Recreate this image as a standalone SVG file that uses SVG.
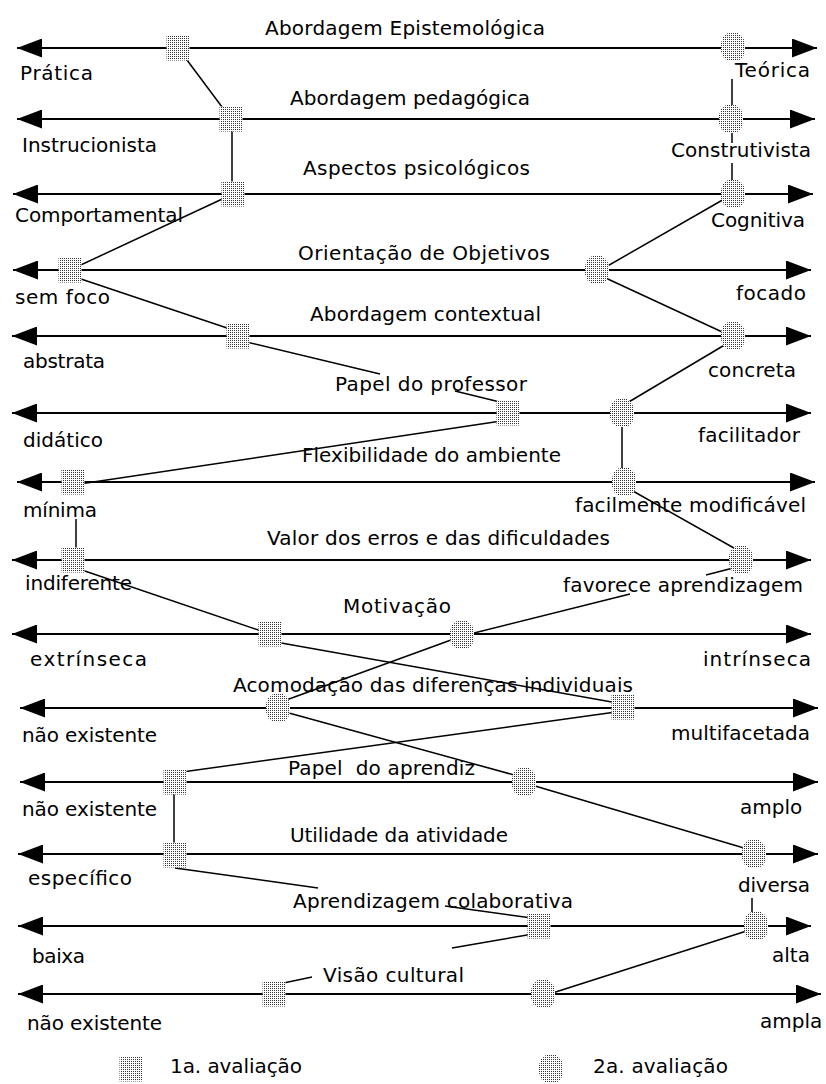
<svg xmlns="http://www.w3.org/2000/svg" xmlns:xlink="http://www.w3.org/1999/xlink" width="826" height="1084" viewBox="0 0 826 1084">
<style>
text{font-family:"DejaVu Sans","Liberation Sans",sans-serif;font-size:20px;fill:#000}
.axis{stroke:#000;stroke-width:2;fill:none}
.conn line{stroke:#000;stroke-width:1.5}
.m{fill:url(#dots)}
</style>
<defs>
<pattern id="dots" width="2" height="2" patternUnits="userSpaceOnUse"><rect width="2" height="2" fill="#fff"/><rect width="1" height="1" fill="#333"/></pattern>
<marker id="arr" viewBox="0 0 25 19" refX="25" refY="9.5" markerWidth="25" markerHeight="19" markerUnits="userSpaceOnUse" orient="auto-start-reverse"><path d="M0,0 L25,9.5 L0,19 z" fill="#000"/></marker>
<rect id="sq" x="-11.5" y="-12.5" width="23" height="25"/>
<polygon id="oct" points="-5,-14 5,-14 10,-10 12,-4 12,4 10,10 5,14 -5,14 -10,10 -12,4 -12,-4 -10,-10"/>
</defs>
<rect width="826" height="1084" fill="#fff"/>

<g id="axes">
<g id="row1"><line class="axis" x1="17" y1="48" x2="817" y2="48" marker-start="url(#arr)" marker-end="url(#arr)"/>
<text x="265" y="35" textLength="280">Abordagem Epistemológica</text><text x="20" y="80" textLength="73">Prática</text><text x="735" y="77" textLength="75">Teórica</text></g>
<g id="row2"><line class="axis" x1="17" y1="119" x2="815" y2="119" marker-start="url(#arr)" marker-end="url(#arr)"/>
<text x="290" y="105" textLength="240">Abordagem pedagógica</text><text x="22" y="152" textLength="135">Instrucionista</text><text x="671" y="157" textLength="140">Construtivista</text></g>
<g id="row3"><line class="axis" x1="13" y1="194" x2="813" y2="194" marker-start="url(#arr)" marker-end="url(#arr)"/>
<text x="303" y="175" textLength="227">Aspectos psicológicos</text><text x="15" y="222" textLength="168">Comportamental</text><text x="711" y="227" textLength="94">Cognitiva</text></g>
<g id="row4"><line class="axis" x1="13" y1="270" x2="811" y2="270" marker-start="url(#arr)" marker-end="url(#arr)"/>
<text x="298" y="260" textLength="252">Orientação de Objetivos</text><text x="15" y="304" textLength="95">sem foco</text><text x="736" y="300" textLength="70">focado</text></g>
<g id="row5"><line class="axis" x1="12" y1="336" x2="811" y2="336" marker-start="url(#arr)" marker-end="url(#arr)"/>
<text x="310" y="321" textLength="231">Abordagem contextual</text><text x="23" y="368" textLength="82">abstrata</text><text x="708" y="377" textLength="88">concreta</text></g>
<g id="row6"><line class="axis" x1="12" y1="413" x2="811" y2="413" marker-start="url(#arr)" marker-end="url(#arr)"/>
<text x="335" y="391" textLength="192">Papel do professor</text><text x="23" y="447" textLength="80">didático</text><text x="698" y="442" textLength="102">facilitador</text></g>
<g id="row7"><line class="axis" x1="17" y1="482" x2="815" y2="482" marker-start="url(#arr)" marker-end="url(#arr)"/>
<text x="302" y="462" textLength="259">Flexibilidade do ambiente</text><text x="23" y="517" textLength="74">mínima</text><text x="575" y="512" textLength="231">facilmente modificável</text></g>
<g id="row8"><line class="axis" x1="12" y1="560" x2="811" y2="560" marker-start="url(#arr)" marker-end="url(#arr)"/>
<text x="267" y="545" textLength="343">Valor dos erros e das dificuldades</text><text x="25" y="590" textLength="107">indiferente</text><text x="563" y="592" textLength="240">favorece aprendizagem</text></g>
<g id="row9"><line class="axis" x1="12" y1="634" x2="811" y2="634" marker-start="url(#arr)" marker-end="url(#arr)"/>
<text x="343" y="613" textLength="108">Motivação</text><text x="30" y="666" textLength="117">extrínseca</text><text x="703" y="666" textLength="108">intrínseca</text></g>
<g id="row10"><line class="axis" x1="20" y1="708" x2="818" y2="708" marker-start="url(#arr)" marker-end="url(#arr)"/>
<text x="233" y="692" textLength="400">Acomodação das diferenças individuais</text><text x="22" y="742" textLength="135">não existente</text><text x="671" y="740" textLength="139">multifacetada</text></g>
<g id="row11"><line class="axis" x1="20" y1="782" x2="818" y2="782" marker-start="url(#arr)" marker-end="url(#arr)"/>
<text x="288" y="775" textLength="187" xml:space="preserve">Papel  do aprendiz</text><text x="22" y="816" textLength="135">não existente</text><text x="740" y="814">amplo</text></g>
<g id="row12"><line class="axis" x1="18" y1="854" x2="818" y2="854" marker-start="url(#arr)" marker-end="url(#arr)"/>
<text x="290" y="842" textLength="218">Utilidade da atividade</text><text x="28" y="885" textLength="104">específico</text><text x="738" y="892" textLength="72">diversa</text></g>
<g id="row13"><line class="axis" x1="18" y1="926" x2="811" y2="926" marker-start="url(#arr)" marker-end="url(#arr)"/>
<text x="293" y="908" textLength="280">Aprendizagem colaborativa</text><text x="32" y="963" textLength="53">baixa</text><text x="772" y="962">alta</text></g>
<g id="row14"><line class="axis" x1="18" y1="994" x2="821" y2="994" marker-start="url(#arr)" marker-end="url(#arr)"/>
<text x="323" y="982" textLength="141">Visão cultural</text><text x="27" y="1030" textLength="135">não existente</text><text x="760" y="1028">ampla</text></g>
</g>

<g id="connectors" class="conn">
<line x1="178" y1="48" x2="231" y2="119"/>
<line x1="232" y1="119" x2="232" y2="194"/>
<line x1="233" y1="194" x2="70" y2="270"/>
<line x1="72" y1="276" x2="236" y2="331"/>
<line x1="238" y1="340" x2="380" y2="374"/>
<line x1="455" y1="391" x2="508" y2="404"/>
<line x1="508" y1="420" x2="73" y2="485"/>
<line x1="76" y1="519" x2="76" y2="560"/>
<line x1="73" y1="567" x2="270" y2="634"/>
<line x1="270" y1="641" x2="623" y2="704"/>
<line x1="623" y1="711" x2="175" y2="773"/>
<line x1="174" y1="782" x2="174" y2="854"/>
<line x1="175" y1="868" x2="318" y2="888"/>
<line x1="445" y1="906" x2="539" y2="919"/>
<line x1="539" y1="933" x2="452" y2="948"/>
<line x1="312" y1="977" x2="274" y2="985"/>

<line x1="732" y1="79" x2="732" y2="119"/>
<line x1="732" y1="119" x2="732" y2="143"/>
<line x1="732" y1="163" x2="732" y2="194"/>
<line x1="733" y1="194" x2="597" y2="272"/>
<line x1="597" y1="274" x2="733" y2="337"/>
<line x1="733" y1="340" x2="622" y2="406"/>
<line x1="622" y1="413" x2="622" y2="482"/>
<line x1="624" y1="486" x2="741" y2="552"/>
<line x1="741" y1="566" x2="706" y2="575"/>
<line x1="630" y1="594" x2="462" y2="636"/>
<line x1="462" y1="636" x2="278" y2="703"/>
<line x1="278" y1="710" x2="525" y2="778"/>
<line x1="525" y1="783" x2="754" y2="851"/>
<line x1="752" y1="898" x2="752" y2="926"/>
<line x1="756" y1="928" x2="543" y2="996"/>
</g>

<g id="eval1">
<use id="a1-1" class="m" href="#sq" x="178" y="48"/>
<use id="a1-2" class="m" href="#sq" x="231" y="119"/>
<use id="a1-3" class="m" href="#sq" x="233" y="194"/>
<use id="a1-4" class="m" href="#sq" x="70" y="270"/>
<use id="a1-5" class="m" href="#sq" x="238" y="336"/>
<use id="a1-6" class="m" href="#sq" x="508" y="413"/>
<use id="a1-7" class="m" href="#sq" x="73" y="482"/>
<use id="a1-8" class="m" href="#sq" x="73" y="560"/>
<use id="a1-9" class="m" href="#sq" x="270" y="634"/>
<use id="a1-10" class="m" href="#sq" x="623" y="707"/>
<use id="a1-11" class="m" href="#sq" x="175" y="782"/>
<use id="a1-12" class="m" href="#sq" x="175" y="855"/>
<use id="a1-13" class="m" href="#sq" x="539" y="926"/>
<use id="a1-14" class="m" href="#sq" x="274" y="994"/>
</g>
<g id="eval2">
<use id="a2-1" class="m" href="#oct" x="733" y="47"/>
<use id="a2-2" class="m" href="#oct" x="731" y="119"/>
<use id="a2-3" class="m" href="#oct" x="733" y="194"/>
<use id="a2-4" class="m" href="#oct" x="597" y="270"/>
<use id="a2-5" class="m" href="#oct" x="733" y="336"/>
<use id="a2-6" class="m" href="#oct" x="622" y="413"/>
<use id="a2-7" class="m" href="#oct" x="624" y="482"/>
<use id="a2-8" class="m" href="#oct" x="741" y="560"/>
<use id="a2-9" class="m" href="#oct" x="462" y="635"/>
<use id="a2-10" class="m" href="#oct" x="278" y="708"/>
<use id="a2-11" class="m" href="#oct" x="524" y="782"/>
<use id="a2-12" class="m" href="#oct" x="754" y="854"/>
<use id="a2-13" class="m" href="#oct" x="756" y="926"/>
<use id="a2-14" class="m" href="#oct" x="543" y="994"/>
</g>

<g id="legend1"><use class="m" href="#sq" x="131" y="1069"/><text x="170" y="1073" textLength="132">1a. avaliação</text></g>
<g id="legend2"><use class="m" href="#oct" x="551" y="1069"/><text x="593" y="1073" textLength="135">2a. avaliação</text></g>
</svg>
